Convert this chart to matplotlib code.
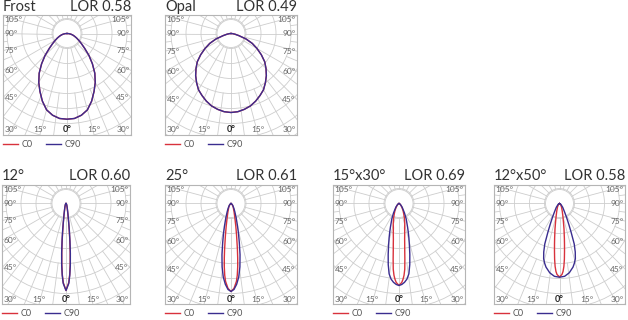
import numpy as np
import matplotlib.pyplot as plt
from matplotlib.patches import Circle

plt.rcParams['font.family'] = ['Lato', 'DejaVu Sans']

# panel titles
titles = ["Frost", "Opal", "12°", "25°", "15°x30°", "12°x50°"]
lors = ["LOR 0.58", "LOR 0.49", "LOR 0.60", "LOR 0.61", "LOR 0.69", "LOR 0.58"]

# intensity (one ring = 15), angle from nadir in degrees
frost_ang = [0, 5, 10, 15, 20, 25, 30, 35, 40, 45, 50, 55, 60, 65, 70, 75, 80, 85, 90]
frost_c0 = [85.7, 85.3, 83, 79, 72, 64, 56.5, 48.5, 39.5, 31, 23, 17.5, 13.5, 10.5, 8, 6, 4, 2, 0]
frost_c90 = [85.7, 85.3, 83, 79, 72, 64, 56.5, 48.5, 39.5, 31, 23, 17.5, 13.5, 10.5, 8, 6, 4, 2, 0]

opal_ang = [0, 5, 10, 15, 20, 25, 30, 35, 40, 45, 50, 55, 60, 65, 70, 75, 80, 85, 90]
opal_c0 = [79, 78.5, 77, 75, 72, 68.5, 65, 60, 55, 49.5, 44, 37, 30, 23.5, 16, 8, 4, 1.5, 0]
opal_c90 = [79, 78.5, 77, 75, 72, 68.5, 65, 60, 55, 49.5, 44, 37, 30, 23.5, 16, 8, 4, 1.5, 0]

b12_ang = [0, 2, 3, 4, 5, 6, 7, 8, 10, 12, 15, 20, 30, 45, 90]
b12_c0 = [87, 79, 71, 60, 48, 36, 26, 19, 11, 7, 4.5, 2.5, 1.2, 0.4, 0]
b12_c90 = [87, 80, 72, 62, 50, 38, 28, 20, 12, 8, 5, 3, 1.5, 0.5, 0]

b25_c0_ang = [0, 2, 4, 5, 6, 7, 8, 10, 12, 15, 20, 30, 45, 90]
b25_c0 = [88, 85, 78, 72, 64, 55, 46, 32, 23, 15, 9, 4.5, 2, 0]
b25_c90_ang = [0, 2, 4, 6, 8, 10, 12, 14, 16, 20, 25, 30, 40, 60, 90]
b25_c90 = [88, 86, 81, 74, 64, 52, 40, 31, 24, 15, 9, 6, 3, 1, 0]

b1530_c0_ang = [0, 2, 3, 4, 5, 6, 7, 8, 9, 11, 13, 16, 20, 25, 30, 40, 60, 90]
b1530_c0 = [82, 79, 76, 72, 66, 56, 47, 41, 36, 30, 25, 21, 16, 11, 8, 4, 1.2, 0]
b1530_c90_ang = [0, 2, 4, 6, 8, 10, 12, 14, 16, 18, 20, 25, 30, 40, 60, 90]
b1530_c90 = [82, 81, 79, 76, 71, 62, 52, 43, 36, 30, 25, 17, 11, 5, 1.5, 0]

b1250_c0_ang = [0, 2, 3, 4, 5, 6, 7, 8, 10, 12, 15, 20, 30, 45, 90]
b1250_c0 = [73.5, 71, 68, 63, 56, 48, 41, 35, 26, 19, 13, 8, 4, 1.5, 0]
b1250_c90_ang = [0, 4, 8, 12, 14, 16, 18, 20, 22, 24, 27, 31, 40, 60, 90]
b1250_c90 = [73.7, 73, 70, 65, 61.5, 57.5, 51, 43, 31, 23, 15.5, 9.7, 5, 1.5, 0]

curves = [
    (frost_ang, frost_c0, frost_ang, frost_c90),
    (opal_ang, opal_c0, opal_ang, opal_c90),
    (b12_ang, b12_c0, b12_ang, b12_c90),
    (b25_c0_ang, b25_c0, b25_c90_ang, b25_c90),
    (b1530_c0_ang, b1530_c0, b1530_c90_ang, b1530_c90),
    (b1250_c0_ang, b1250_c0, b1250_c90_ang, b1250_c90),
]

# panel boxes in pixels: left, top, width, height
boxes = [(3, 15, 128, 120), (165, 15, 132, 120),
         (2, 185, 128, 119), (165, 185, 132, 119), (333, 185, 132, 119), (494, 185, 131, 119)]

W, H = 628, 320
red = '#d8323c'
blue = '#3a2d8f'
grid = '#cdcdcd'
lab = '#666666'


def mirror(ang, val):
    a = np.radians(np.r_[-np.array(ang[::-1], float), np.array(ang[1:], float)])
    r = np.r_[np.array(val[::-1], float), np.array(val[1:], float)]
    return r * np.sin(a), -r * np.cos(a)


fig = plt.figure(figsize=(W / 100, H / 100), dpi=100)

for i in range(6):
    l, t, w, h = boxes[i]
    top = 18.5
    ax = fig.add_axes([l / W, 1 - (t + h) / H, w / W, h / H])
    ax.set_xlim(-w / 2, w / 2)
    ax.set_ylim(-(h - top), top)
    ax.set_xticks([])
    ax.set_yticks([])
    for s in ax.spines.values():
        s.set_color('#b5b5b5')
        s.set_linewidth(0.8)

    # rings and spokes
    for r in range(15, 151, 15):
        ax.add_patch(Circle((0, 0), r, fill=False, ec=grid, lw=0.6, zorder=1))
    for a in np.arange(0, 360, 15):
        ar = np.radians(a)
        ax.plot([14 * np.sin(ar), 200 * np.sin(ar)], [-14 * np.cos(ar), -200 * np.cos(ar)],
                color=grid, lw=0.6, zorder=1)
    for a in np.arange(7.5, 360, 15):
        ar = np.radians(a)
        ax.plot([60 * np.sin(ar), 200 * np.sin(ar)], [-60 * np.cos(ar), -200 * np.cos(ar)],
                color=grid, lw=0.6, zorder=1)
    ax.add_patch(Circle((0, 0), 14, fc='white', ec=grid, lw=0.6, zorder=2))

    # angle labels
    for a in [45, 60, 75, 90, 105]:
        y = -(w / 2) * np.cos(np.radians(a)) / np.sin(np.radians(a))
        y = min(y, top - 5)
        ax.text(-w / 2 + 1.5, y, f"{a}°", ha='left', va='center', fontsize=6, color=lab, zorder=5)
        ax.text(w / 2 - 1.5, y, f"{a}°", ha='right', va='center', fontsize=6, color=lab, zorder=5)
    yb = -(h - top) + 5
    for a in [15, 30]:
        x = (h - top) * np.tan(np.radians(a))
        if x > w / 2 - 8:
            ax.text(-w / 2 + 1.5, yb, f"{a}°", ha='left', va='center', fontsize=6, color=lab, zorder=5)
            ax.text(w / 2 - 1.5, yb, f"{a}°", ha='right', va='center', fontsize=6, color=lab, zorder=5)
        else:
            ax.text(-x, yb, f"{a}°", ha='center', va='center', fontsize=6, color=lab, zorder=5)
            ax.text(x, yb, f"{a}°", ha='center', va='center', fontsize=6, color=lab, zorder=5)
    ax.text(0, yb, "0°", ha='center', va='center', fontsize=6.5, color='#222222', fontweight='bold', zorder=5)

    a0, v0, a90, v90 = curves[i]
    x0, y0 = mirror(a0, v0)
    x9, y9 = mirror(a90, v90)
    ax.plot(x0, y0, color=red, lw=1.0, zorder=3, label='C0')
    ax.plot(x9, y9, color=blue, lw=1.0, zorder=4, label='C90')

    ax.legend(loc='upper left', bbox_to_anchor=(0.0, -0.04), ncol=2, frameon=False,
              fontsize=6.5, handlelength=1.7, handletextpad=0.4, columnspacing=1.4,
              borderaxespad=0, borderpad=0, labelcolor='#555555')

    ybase = 11 if t < 100 else 180
    fig.text(l / W, 1 - ybase / H, titles[i], ha='left', va='baseline', fontsize=10.5, color='#333333')
    fig.text((l + w) / W, 1 - ybase / H, lors[i], ha='right', va='baseline', fontsize=10.5, color='#333333')

fig.savefig('out.png', dpi=100)
